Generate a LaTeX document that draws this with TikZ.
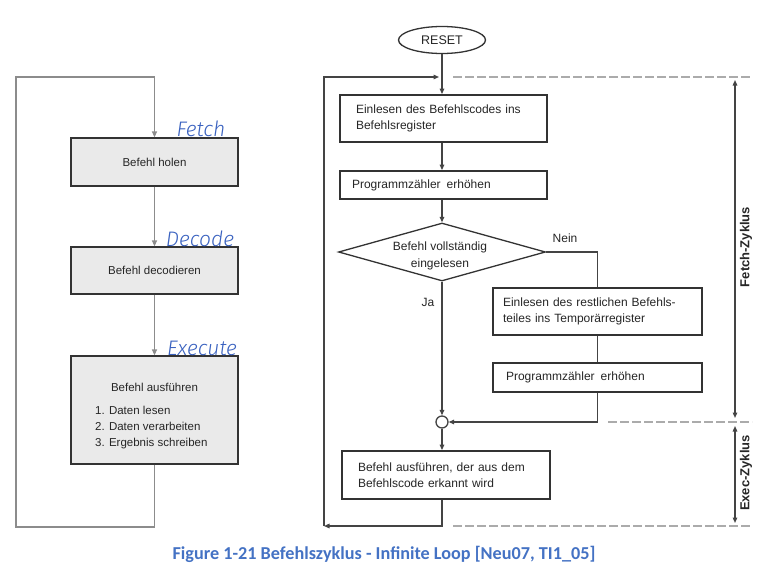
\documentclass[tikz,border=0pt]{standalone}
\usepackage{fontspec}
\setmainfont{Liberation Sans}
\newfontfamily\hand{Fira Sans Light Italic}
\newfontfamily\capfont{Carlito}
\usetikzlibrary{arrows.meta,shapes.geometric}
\definecolor{lgray}{HTML}{8C8C8C}
\definecolor{boxfill}{HTML}{EAEAEA}
\definecolor{dk}{HTML}{333333}
\definecolor{ln}{HTML}{444444}
\definecolor{dash}{HTML}{ABABAB}
\definecolor{handblue}{HTML}{3A62C0}
\definecolor{capblue}{HTML}{4472C4}
\tikzset{
  lbox/.style={draw=dk, line width=1.3pt, fill=boxfill, inner sep=0pt, text=black!85, font=\fontsize{11.5}{14}\selectfont},
  lline/.style={draw=lgray, line width=1.3pt},
  larrow/.style={lline, -{Triangle[length=6pt,width=5pt]}},
  rbox/.style={draw=dk, line width=1.8pt, inner ysep=0pt, text=black!85, font=\fontsize{12}{16.5}\selectfont, align=left},
  rline/.style={draw=ln, line width=1.3pt},
  rarrow/.style={rline, -{Triangle[length=5.5pt,width=4.5pt]}},
  dashline/.style={draw=dash, line width=1.4pt, dash pattern=on 9pt off 3pt},
  handlbl/.style={text=handblue, font=\hand\fontsize{21}{21}\selectfont, inner sep=0pt},
  rlbl/.style={text=black!85, font=\fontsize{12}{14}\selectfont, inner sep=0pt},
  cyclbl/.style={text=black!85, font=\bfseries\fontsize{13}{14}\selectfont, inner sep=0pt, rotate=90},
  dblarrow/.style={rline, {Triangle[length=5.5pt,width=4.5pt]}-{Triangle[length=5.5pt,width=4.5pt]}}
}
\begin{document}
\begin{tikzpicture}[x=1pt,y=-1pt]
\useasboundingbox[fill=white] (0,0) rectangle (765,573);

% ---------- left diagram ----------
\node[lbox, minimum width=167pt, minimum height=48pt] (L1) at (154.5,162) {Befehl holen};
\node[lbox, minimum width=167pt, minimum height=47pt] (L2) at (154.5,270.5) {Befehl decodieren};
\node[lbox, minimum width=167pt, minimum height=108pt] (L3) at (154.5,410) {};
\node[text=black!85, font=\fontsize{11.5}{14}\selectfont, inner sep=0pt] (L3t) at (154.5,387) {Befehl ausführen};
\node[text=black!85, font=\fontsize{11.5}{16}\selectfont, inner sep=0pt, align=left, anchor=north west] (L3l) at (95,406) {1. Daten lesen\\2. Daten verarbeiten\\3. Ergebnis schreiben};

\coordinate (Lbl) at (16,527);
\coordinate (Ltl) at (16,77);
\draw[larrow] (L1) -- (L2);
\draw[larrow] (L2) -- (L3);
\draw[larrow] (L3.south) |- (Lbl) -- (Ltl) -| (L1.north);

\node[handlbl] (hF) at (201,129) {Fetch};
\node[handlbl] (hD) at (200,239) {Decode};
\node[handlbl] (hE) at (202,348) {Execute};

% ---------- right diagram ----------
\coordinate (spine) at (442,0);
\node[draw=dk, line width=1.3pt, ellipse, minimum width=87pt, minimum height=27pt, inner sep=0pt, text=black!85, font=\fontsize{12.5}{14}\selectfont] (RESET) at (442,40) {RESET};

\node[rbox, minimum width=207pt, minimum height=47pt, text width=175pt, inner xsep=16pt] (R1) at (443.5,118.5) {Einlesen des Befehlscodes ins\\Befehlsregister};
\node[rbox, minimum width=207pt, minimum height=28pt, text width=183pt, inner xsep=12pt] (R2) at (443.5,185) {Programmzähler\enspace erhöhen};
\node[draw=dk, line width=1.3pt, diamond, aspect=3.57, minimum width=207pt, minimum height=58pt, inner sep=0pt] (D) at (442,252) {};
\node[align=center, inner sep=0pt, text=black!85, font=\fontsize{12}{16.5}\selectfont] (Dt) at (440,256) {Befehl vollständig\\eingelesen};
\node[rbox, minimum width=209pt, minimum height=47pt, text width=189pt, inner xsep=10pt] (R3) at (597.5,311.5) {Einlesen des restlichen Befehls-\\teiles ins Temporärregister};
\node[rbox, minimum width=209pt, minimum height=29pt, text width=183pt, inner xsep=13pt] (R4) at (597.5,377.5) {Programmzähler\enspace erhöhen};
\node[draw=ln, line width=1.3pt, circle, minimum size=12pt, inner sep=0pt] (C) at (442,422) {};
\node[rbox, minimum width=208pt, minimum height=48pt, text width=176pt, inner xsep=16pt] (R5) at (446,475) {Befehl ausführen, der aus dem\\Befehlscode erkannt wird};

\node[rlbl] (nein) at (565,238) {Nein};
\node[rlbl] (ja) at (428,302) {Ja};

\coordinate (Rbl) at (324,526);
\coordinate (Rtl) at (324,77);
\coordinate (Rin) at (439,77);

\draw[rarrow] (RESET) -- (R1.north -| spine);
\draw[rarrow] (R1.south -| spine) -- (R2.north -| spine);
\draw[rarrow] (R2.south -| spine) -- (D.north);
\draw[rline] (D.east) -| (R3.north);
\draw[rline] (R3.south) -- (R4.north);
\draw[rarrow] (R4.south) |- (C.east);
\draw[rarrow] (D.south) -- (C.north);
\draw[rarrow] (C.south) -- (R5.north -| spine);
\draw[rarrow] (R5.south -| spine) |- (Rbl);
\draw[rarrow] (Rbl) -- (Rtl) -- (Rin);

% dashed phase boundaries
\coordinate (d1a) at (453,77);  \coordinate (d1b) at (752,77);
\coordinate (d2a) at (608,422); \coordinate (d2b) at (752,422);
\coordinate (d3a) at (453,526); \coordinate (d3b) at (752,526);
\draw[dashline] (d1a) -- (d1b);
\draw[dashline] (d2a) -- (d2b);
\draw[dashline] (d3a) -- (d3b);

\coordinate (f1) at (735,80);  \coordinate (f2) at (735,418);
\coordinate (e1) at (735,426); \coordinate (e2) at (735,523);
\draw[dblarrow] (f1) -- (f2);
\draw[dblarrow] (e1) -- (e2);
\node[cyclbl] (fz) at (746,247) {Fetch-Zyklus};
\node[cyclbl] (ez) at (746,473) {Exec-Zyklus};

% caption
\node[text=capblue, font=\capfont\bfseries\fontsize{18.2}{20}\selectfont, inner sep=0pt] (cap) at (384,554) {Figure 1-21 Befehlszyklus - Infinite Loop [Neu07, TI1\_05]};
\end{tikzpicture}
\end{document}
